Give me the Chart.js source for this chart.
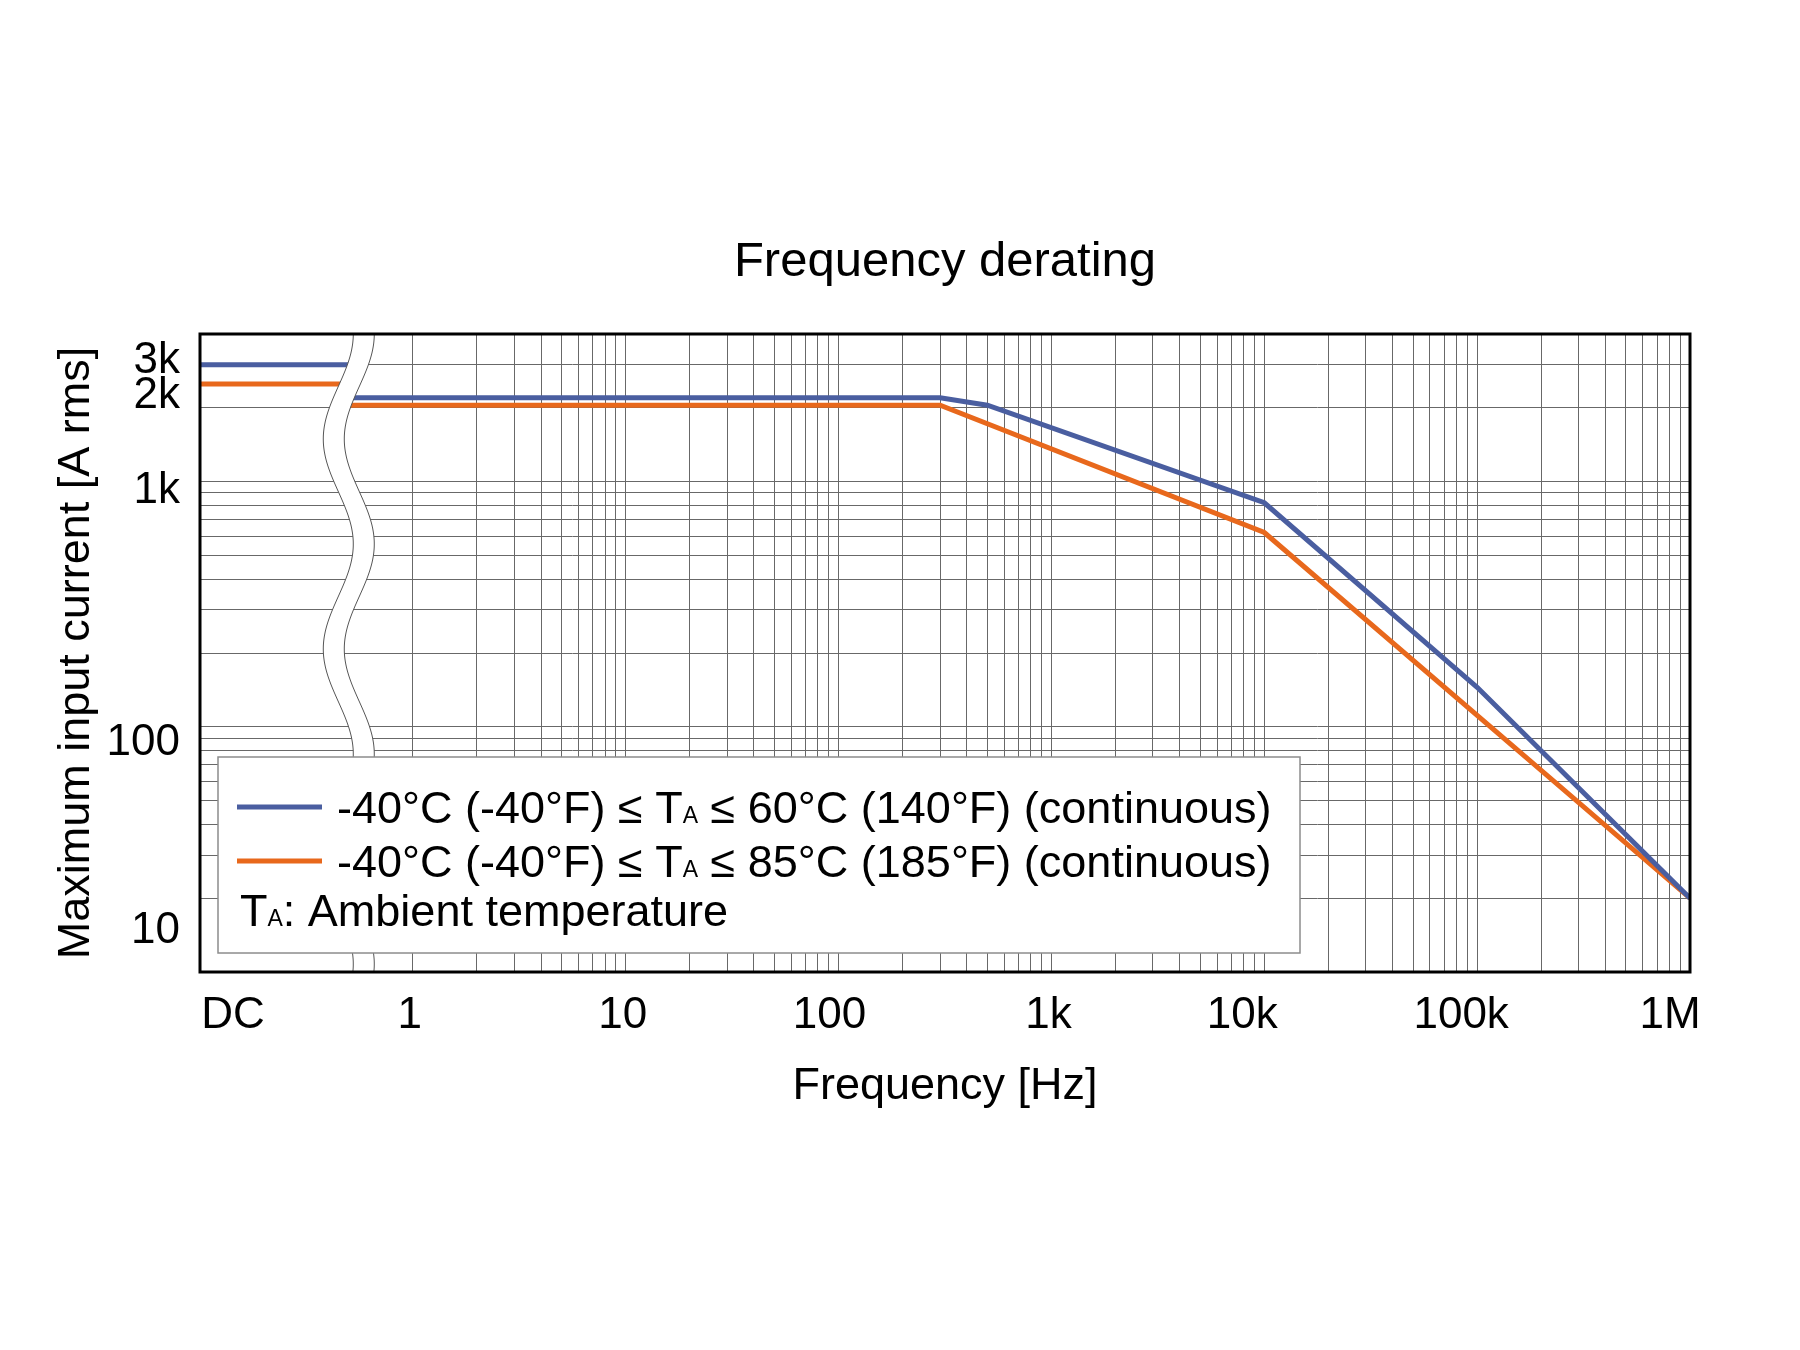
<!DOCTYPE html>
<html>
<head>
<meta charset="utf-8">
<title>Frequency derating</title>
<script src="https://cdn.jsdelivr.net/npm/chart.js@4.4.1/dist/chart.umd.min.js"></script>
<style>
  html, body { margin: 0; padding: 0; background: #fff; }
  #wrap { width: 1800px; height: 1350px; }
</style>
</head>
<body>
<div id="wrap"><canvas id="derating" width="1800" height="1350"></canvas></div>
<script>
// values (Hz / A rms)
const BLUE_FREQ = [0.1, 0.5, 0.5, 300, 500, 10000, 100000, 1000000];
const BLUE_CURRENT = [3000, 3000, 2200, 2200, 2050, 820, 145, 20];
const ORANGE_FREQ = [0.1, 0.5, 0.5, 300, 10000, 1000000];
const ORANGE_CURRENT = [2500, 2500, 2050, 2050, 620, 20];

const X_TICKS = [0.14, 1, 10, 100, 1e3, 1e4, 1e5, 1e6];
const X_TICK_LABELS = ['DC', '1', '10', '100', '1k', '10k', '100k', '1M'];
const Y_TICKS = [10, 100, 1000, 2000, 3000];
const Y_TICK_LABELS = ['10', '100', '1k', '2k', '3k'];

const SERIES_LABELS = [
  '-40°C (-40°F) ≤ TA ≤ 60°C (140°F) (continuous)',
  '-40°C (-40°F) ≤ TA ≤ 85°C (185°F) (continuous)'
];
// legend rows split so the "A" of TA can be set small
const LEGEND_ROWS = [
  [['-40°C (-40°F) ≤ T', false], ['A', true], [' ≤ 60°C (140°F) (continuous)', false]],
  [['-40°C (-40°F) ≤ T', false], ['A', true], [' ≤ 85°C (185°F) (continuous)', false]],
  [['T', false], ['A', true], [': Ambient temperature', false]]
];

const FONT = '"Liberation Sans", Arial, Helvetica, sans-serif';
const BLUE = '#4a5ea0';
const ORANGE = '#e8681c';
const GRID = '#686868';

Chart.defaults.font.family = FONT;
Chart.defaults.color = '#000';

function toPoints(xs, ys) {
  return xs.map((x, i) => ({ x: x, y: ys[i] }));
}

function decadeTicks(fromExp, toExp, max) {
  const out = [];
  for (let e = fromExp; e <= toExp; e++) {
    for (let m = 1; m <= 9; m++) {
      const v = m * Math.pow(10, e);
      if (v <= max) out.push({ value: v });
    }
  }
  return out;
}

// white wavy band marking the DC / axis break
const axisBreak = {
  id: 'axisBreak',
  afterDatasetsDraw(chart, args, opts) {
    const { ctx, chartArea: a, scales: { x } } = chart;
    const cx = x.getPixelForValue(opts.at);
    const pts = [];
    for (let py = a.top; py < a.bottom; py += 2) {
      pts.push([cx + opts.amp * Math.cos(2 * Math.PI * (py - a.top) / opts.period), py]);
    }
    pts.push([cx + opts.amp * Math.cos(2 * Math.PI * (a.bottom - a.top) / opts.period), a.bottom]);
    ctx.save();
    ctx.beginPath();
    pts.forEach(([px, py], i) => i ? ctx.lineTo(px - opts.half, py) : ctx.moveTo(px - opts.half, py));
    for (let i = pts.length - 1; i >= 0; i--) ctx.lineTo(pts[i][0] + opts.half, pts[i][1]);
    ctx.closePath();
    ctx.fillStyle = '#fff';
    ctx.fill();
    ctx.strokeStyle = '#555';
    ctx.lineWidth = 1;
    [-opts.half, opts.half].forEach(off => {
      ctx.beginPath();
      pts.forEach(([px, py], i) => i ? ctx.lineTo(px + off, py) : ctx.moveTo(px + off, py));
      ctx.stroke();
    });
    ctx.restore();
  }
};

const boxLegend = {
  id: 'boxLegend',
  afterDatasetsDraw(chart) {
    const { ctx, chartArea: a } = chart;
    const left = a.left + 18, right = left + 1082;
    const top = a.bottom - 215, bottom = a.bottom - 19;
    ctx.save();
    ctx.fillStyle = '#fff';
    ctx.fillRect(left, top, right - left, bottom - top);
    ctx.strokeStyle = '#8c8c8c';
    ctx.lineWidth = 1.5;
    ctx.strokeRect(left, top, right - left, bottom - top);
    const baselines = [66, 120, 169];
    LEGEND_ROWS.forEach((row, i) => {
      const y = top + baselines[i];
      let tx = left + (i < 2 ? 119 : 22);
      if (i < 2) {
        ctx.strokeStyle = chart.data.datasets[i].borderColor;
        ctx.lineWidth = 5;
        ctx.beginPath();
        ctx.moveTo(left + 19, y - 16);
        ctx.lineTo(left + 104, y - 16);
        ctx.stroke();
      }
      ctx.fillStyle = '#000';
      ctx.textAlign = 'left';
      ctx.textBaseline = 'alphabetic';
      row.forEach(([text, small]) => {
        ctx.font = (small ? 23 : 45) + 'px ' + FONT;
        ctx.fillText(text, tx, y);
        tx += ctx.measureText(text).width;
      });
    });
    ctx.restore();
  }
};

const frame = {
  id: 'frame',
  afterDatasetsDraw(chart) {
    const { ctx, chartArea: a } = chart;
    ctx.save();
    ctx.strokeStyle = '#000';
    ctx.lineWidth = 3;
    ctx.strokeRect(a.left, a.top, a.right - a.left, a.bottom - a.top);
    ctx.restore();
  }
};

// tick labels, nudged to where the original drawing puts them
const axisText = {
  id: 'axisText',
  afterDraw(chart, args, opts) {
    const { ctx, scales: { x, y } } = chart;
    ctx.save();
    ctx.fillStyle = '#000';
    ctx.font = '44px ' + FONT;
    ctx.textBaseline = 'alphabetic';
    ctx.textAlign = 'center';
    X_TICKS.forEach((v, i) => {
      ctx.fillText(X_TICK_LABELS[i], x.getPixelForValue(v) + opts.xNudge[i], x.top + 56);
    });
    ctx.textAlign = 'right';
    Y_TICKS.forEach((v, i) => {
      ctx.fillText(Y_TICK_LABELS[i], y.right - 20, y.getPixelForValue(v) + opts.yNudge[i] + 16);
    });
    ctx.restore();
  }
};

new Chart(document.getElementById('derating'), {
  type: 'line',
  data: {
    datasets: [
      {
        label: SERIES_LABELS[0],
        data: toPoints(BLUE_FREQ, BLUE_CURRENT),
        borderColor: BLUE,
        borderWidth: 5,
        pointRadius: 0,
        tension: 0
      },
      {
        label: SERIES_LABELS[1],
        data: toPoints(ORANGE_FREQ, ORANGE_CURRENT),
        borderColor: ORANGE,
        borderWidth: 5,
        pointRadius: 0,
        tension: 0
      }
    ]
  },
  options: {
    responsive: false,
    animation: false,
    devicePixelRatio: 1,
    layout: { padding: { left: 0, right: 110, top: 0, bottom: 0 } },
    plugins: {
      legend: { display: false },
      tooltip: { enabled: false },
      title: {
        display: true,
        text: 'Frequency derating',
        fullSize: false,
        color: '#000',
        font: { size: 49, weight: 'normal' },
        padding: { top: 233, bottom: 42.2 }
      },
      axisBreak: { at: 0.5, amp: 15, period: 210, half: 10.5 },
      axisText: {
        xNudge: [2, -3, -3, -9, -3, -22, -16, -20],
        yNudge: [-45, 12, 5, -16, -8]
      }
    },
    scales: {
      x: {
        type: 'logarithmic',
        min: 0.1,
        max: 1e6,
        border: { display: false },
        grid: { color: GRID, lineWidth: 1, drawTicks: false },
        ticks: { display: false, autoSkip: false },
        afterBuildTicks: s => { s.ticks = decadeTicks(0, 5, 1e6).concat([{ value: 1e6 }]); },
        afterFit: s => { s.height = 378; },
        title: {
          display: true,
          text: 'Frequency [Hz]',
          color: '#000',
          font: { size: 45 },
          padding: { top: 0, bottom: 236 }
        }
      },
      y: {
        type: 'logarithmic',
        min: 10,
        max: 4000,
        border: { display: false },
        grid: { color: GRID, lineWidth: 1, drawTicks: false },
        ticks: { display: false, autoSkip: false },
        afterBuildTicks: s => { s.ticks = decadeTicks(1, 3, 4000); },
        afterFit: s => { s.width = 200; },
        title: {
          display: true,
          text: 'Maximum input current [A rms]',
          color: '#000',
          font: { size: 45 },
          padding: { top: 50, bottom: 0 }
        }
      }
    }
  },
  plugins: [axisBreak, boxLegend, frame, axisText]
});
</script>
</body>
</html>
